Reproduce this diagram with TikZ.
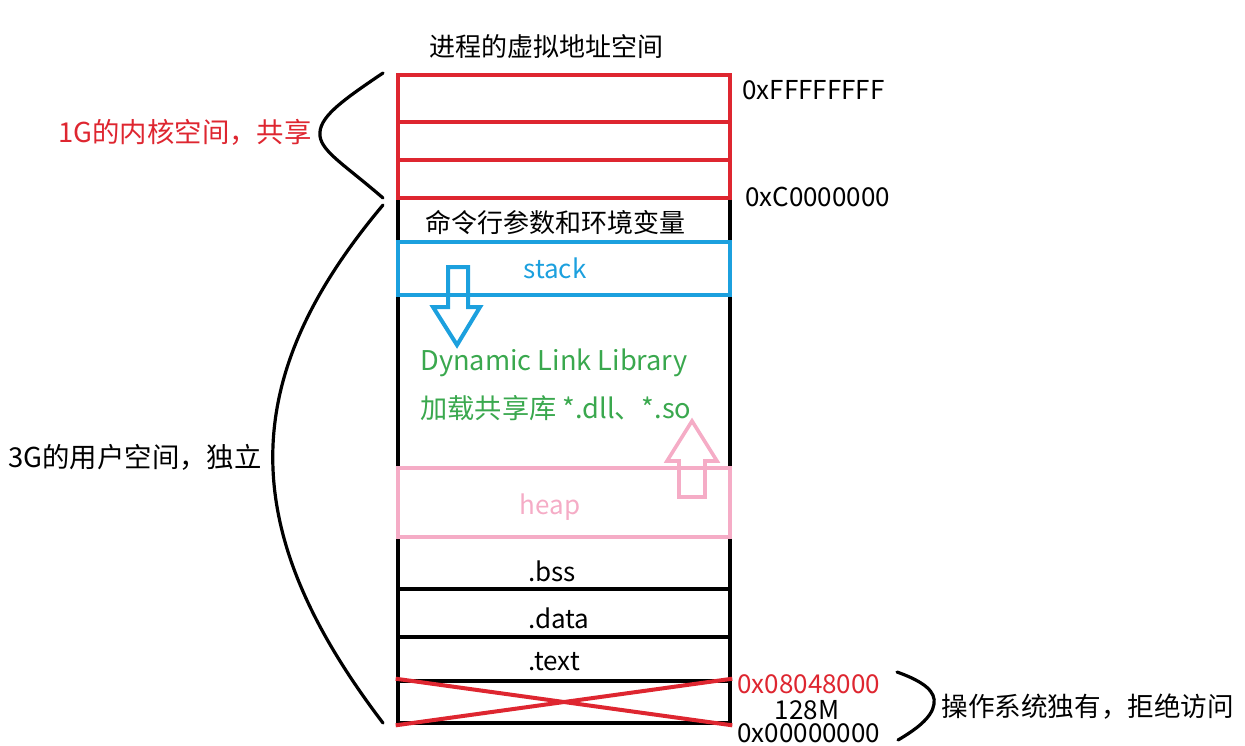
\documentclass[tikz,border=0pt]{standalone}
\usepackage{fontspec}
\setmainfont{Noto Sans CJK SC}
\definecolor{vmred}{RGB}{222,38,48}
\definecolor{vmblue}{RGB}{28,160,222}
\definecolor{vmgreen}{RGB}{58,168,78}
\definecolor{vmpink}{RGB}{245,172,198}

\begin{document}
\begin{tikzpicture}[x=0.5pt, y=-0.5pt, font=\fontsize{13pt}{16pt}\selectfont,
  seg/.style={draw, line width=2.3pt, minimum width=166pt, inner sep=0pt, anchor=center},
  segk/.style={seg, draw=vmred, line width=2pt},
  segs/.style={seg, draw=vmblue, line width=2pt},
  segh/.style={seg, draw=vmpink, line width=1.6pt},
  txt/.style={inner sep=0pt},
  lbl/.style={inner sep=0pt, anchor=west},
  side/.style={inner sep=0pt, anchor=east, font=\fontsize{13.7pt}{16pt}\selectfont},
  brc/.style={line width=1.6pt, line cap=round},
  blkarr/.style={line width=2pt, line join=miter}]
\useasboundingbox (0,0) rectangle (1245,745);
\node[txt] (title) at (546,47) {进程的虚拟地址空间};
\node[seg, minimum height=262.5pt] (usr) at (564,460.5) {};
\node[seg, minimum height=22pt] (args) at (564,220) {};
\node[seg, minimum height=26pt] (bss)  at (564,563) {};
\node[seg, minimum height=24pt] (data) at (564,613) {};
\node[seg, minimum height=22pt] (text) at (564,659) {};
\node[seg, minimum height=21pt] (res)  at (564,702) {};
\draw[vmred, line width=2pt] (res.north west) -- (res.south east)
  (res.south west) -- (res.north east);
\node[segk, minimum height=23.5pt] (k1) at (564,98.5) {};
\node[segk, minimum height=19pt]   (k2) at (564,141) {};
\node[segk, minimum height=19pt]   (k3) at (564,179) {};
\node[segs, minimum height=26.5pt] (stk) at (564,268.5) {};
\node[segh, minimum height=34.5pt] (hp)  at (564,502.5) {};
\node[txt] (targs) at (555,223) {命令行参数和环境变量};
\node[txt, text=vmblue] (tstk) at (555,268) {stack};
\node[txt, text=vmpink] (thp)  at (550,507) {heap};
\node[lbl] (tbss)  at (528,571) {.bss};
\node[lbl] (tdata) at (528,618) {.data};
\node[lbl] (ttext) at (528,662) {.text};
\draw[blkarr, vmblue] (448,267) -- (468,267) -- (468,307) -- (480,307)
  -- (457,345) -- (433,307) -- (448,307) -- cycle;
\draw[blkarr, vmpink, line width=1.8pt] (679,497) -- (679,461) -- (667,461)
  -- (692,421) -- (717,461) -- (705,461) -- (705,497) -- cycle;
\node[lbl, text=vmgreen, font=\fontsize{13.6pt}{16pt}\selectfont] (dll)  at (420,363) {Dynamic Link Library};
\node[lbl, text=vmgreen, font=\fontsize{13.6pt}{16pt}\selectfont] (dllz) at (420,408) {加载共享库 *.dll、*.so};
\node[lbl] (aff) at (742,90)  {0xFFFFFFFF};
\node[lbl] (ac0) at (745,197) {0xC0000000};
\node[lbl, text=vmred] (a08) at (737,684) {0x08048000};
\node[txt] (sz) at (807,710) {128M};
\node[lbl] (a00) at (737,733) {0x00000000};
\node[side, text=vmred] (kl) at (312,132) {1G的内核空间，共享};
\node[side] (ul) at (262,457) {3G的用户空间，独立};
\node[lbl, font=\fontsize{13.3pt}{16pt}\selectfont] (ol) at (941,707) {操作系统独有，拒绝访问};
\coordinate (kt) at (383,73);  \coordinate (kb) at (383,198);
\coordinate (ut) at (383,205); \coordinate (ub) at (383,723);
\coordinate (ot) at (897,672); \coordinate (ob) at (898,740);
\draw[brc] (kt) .. controls (340,102) and (318,118) .. (320,136)
  .. controls (322,152) and (345,165) .. (kb);
\draw[brc] (ut) .. controls (236,380) and (236,530) .. (ub);
\draw[brc] (ot) .. controls (925,682) and (936,692) .. (934,704)
  .. controls (932,718) and (915,730) .. (ob);
\end{tikzpicture}
\end{document}
